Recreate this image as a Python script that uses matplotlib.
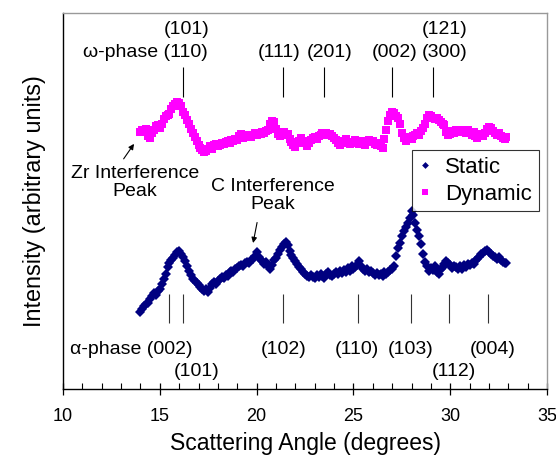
import numpy as np
import matplotlib.pyplot as plt

plt.rcParams['font.family'] = ['Liberation Sans', 'DejaVu Sans']

# scattering angle grid (degrees)
angle = np.round(np.arange(14.0, 32.95, 0.1), 1)

# dynamic (magenta squares), arbitrary units
dynamic = [
    68.4, 68.9, 68.6, 69.2, 67.3, 66.8, 68.2, 69.0, 69.9, 70.1,
    69.5, 70.6, 71.8, 72.7, 73.0, 73.2, 74.5, 75.3, 75.9, 76.4,
    76.0, 75.2, 73.8, 72.9, 71.5, 70.5, 69.2, 68.1, 67.0, 66.0,
    64.9, 64.1, 63.5, 63.0, 63.3, 63.8, 64.5, 63.9, 64.8, 65.2,
    64.6, 65.0, 65.5, 65.1, 65.6, 66.0, 65.4, 66.3, 66.0, 66.6,
    66.2, 67.4, 67.8, 66.8, 67.3, 67.0, 67.6, 66.9, 67.5, 68.0,
    67.6, 68.2, 67.8, 68.4, 68.0, 68.6, 69.0, 70.5, 71.3, 71.0,
    69.2, 67.9, 67.4, 67.8, 68.3, 67.6, 67.8, 66.4, 65.6, 64.8,
    64.4, 65.3, 65.9, 66.7, 66.0, 65.4, 64.6, 65.5, 66.3, 66.8,
    67.1, 66.6, 67.3, 67.6, 68.0, 67.7, 68.0, 67.6, 67.8, 67.2,
    66.8, 66.1, 65.5, 65.0, 65.3, 65.9, 66.4, 65.7, 65.1, 65.4,
    65.8, 66.3, 65.6, 65.2, 65.9, 65.5, 65.0, 65.7, 66.2, 65.6,
    65.9, 65.2, 64.8, 65.4, 64.6, 64.0, 66.5, 69.0, 71.2, 73.0,
    73.8, 73.5, 72.6, 72.2, 70.4, 68.0, 66.8, 66.0, 66.5, 67.0,
    66.4, 67.2, 67.6, 68.0, 67.5, 68.6, 69.4, 70.5, 72.0, 72.9,
    72.5, 72.0, 71.8, 72.2, 71.5, 71.0, 70.6, 70.2, 68.4, 67.6,
    67.9, 68.6, 68.2, 68.8, 68.5, 69.0, 68.4, 68.7, 68.2, 68.8,
    68.0, 67.6, 68.3, 67.4, 66.8, 67.5, 67.9, 67.3, 68.0, 69.2,
    69.8, 69.3, 68.6, 68.0, 67.6, 68.2, 67.4, 66.8, 66.4, 66.9,
]

# static (navy diamonds)
static = [
    20.5, 21.3, 22.0, 22.6, 23.0, 23.8, 24.6, 25.4, 25.0, 26.0,
    26.6, 27.8, 29.2, 30.6, 32.5, 33.4, 34.2, 34.8, 35.6, 36.4,
    36.8, 35.9, 35.0, 34.0, 32.6, 31.5, 30.2, 29.3, 28.7, 28.2,
    27.7, 27.0, 26.6, 26.1, 26.5, 25.8, 26.8, 27.8, 28.4, 28.0,
    28.8, 29.3, 29.8, 29.5, 30.3, 30.0, 31.0, 31.4, 31.1, 31.8,
    32.2, 32.8, 33.1, 32.6, 33.4, 33.8, 33.5, 34.2, 34.6, 35.3,
    36.4, 35.0, 34.4, 34.0, 33.3, 33.7, 32.6, 32.0, 33.0, 34.2,
    34.8, 36.0, 36.9, 37.8, 38.5, 39.1, 38.3, 36.8, 35.6, 34.8,
    34.0, 33.3, 32.5, 31.8, 31.2, 30.6, 30.1, 29.8, 30.2, 29.9,
    29.6, 30.3, 29.8, 30.6, 30.1, 29.4, 30.5, 31.0, 30.4, 30.0,
    30.7, 31.2, 30.6, 31.3, 30.8, 31.6, 31.0, 32.2, 31.4, 32.6,
    31.8, 32.4, 33.0, 34.0, 32.8, 31.9, 31.4, 31.8, 31.0, 31.5,
    30.8, 30.4, 30.9, 30.2, 30.6, 30.0, 31.0, 30.5, 31.2, 31.6,
    31.8, 32.8, 35.4, 37.4, 38.8, 40.6, 42.0, 43.2, 44.2, 45.4,
    47.4, 46.2, 44.2, 42.4, 40.6, 38.6, 36.0, 33.8, 32.6, 31.4,
    32.2, 31.6, 32.6, 31.2, 30.6, 31.8, 32.4, 33.2, 34.0, 33.4,
    33.0, 32.2, 32.8, 32.4, 31.8, 32.6, 32.0, 32.9, 32.4, 33.2,
    33.0, 33.6, 33.2, 34.0, 34.6, 35.2, 35.8, 36.2, 36.6, 37.0,
    36.4, 36.0, 35.4, 35.0, 34.6, 35.0, 34.2, 33.8, 33.4, 33.6,
]

# reflection positions
omega_pos = [16.22, 21.36, 23.47, 26.98, 29.12]
alpha_pos = [15.45, 16.22, 21.36, 25.21, 27.99, 29.95, 31.95]

fig = plt.figure(figsize=(5.56, 4.58), dpi=100)
ax = fig.add_axes([0.1133, 0.1507, 0.8707, 0.8209])

ax.plot(angle, dynamic, 's', color='#FF00FF', markersize=6, markeredgewidth=0,
        label='Dynamic', zorder=3)
ax.plot(angle, static, 'D', color='#000080', markersize=4.6, markeredgewidth=0,
        label='Static', zorder=3)

ax.vlines(omega_pos, 77.7, 85.6, color='black', linewidth=0.8)
ax.vlines(alpha_pos, 17.6, 25.3, color='#333333', linewidth=0.8)

fs = 14
# omega-phase labels
ax.text(17.48, 89.4, '\u03c9-phase (110)', ha='right', va='center', fontsize=fs)
ax.text(16.37, 95.5, '(101)', ha='center', va='center', fontsize=fs)
ax.text(21.16, 89.4, '(111)', ha='center', va='center', fontsize=fs)
ax.text(23.75, 89.4, '(201)', ha='center', va='center', fontsize=fs)
ax.text(27.10, 89.4, '(002)', ha='center', va='center', fontsize=fs)
ax.text(29.71, 89.4, '(300)', ha='center', va='center', fontsize=fs)
ax.text(29.71, 95.5, '(121)', ha='center', va='center', fontsize=fs)

# alpha-phase labels
ax.text(16.67, 10.5, '\u03b1-phase (002)', ha='right', va='center', fontsize=fs)
ax.text(16.92, 4.7, '(101)', ha='center', va='center', fontsize=fs)
ax.text(21.41, 10.5, '(102)', ha='center', va='center', fontsize=fs)
ax.text(25.18, 10.5, '(110)', ha='center', va='center', fontsize=fs)
ax.text(27.96, 10.5, '(103)', ha='center', va='center', fontsize=fs)
ax.text(30.19, 4.7, '(112)', ha='center', va='center', fontsize=fs)
ax.text(32.19, 10.5, '(004)', ha='center', va='center', fontsize=fs)

# interference peaks
ax.annotate('', xy=(13.75, 65.8), xytext=(13.05, 60.6),
            arrowprops=dict(arrowstyle='-|>', color='black', lw=0.8,
                            mutation_scale=8))
ax.text(13.73, 54.9, 'Zr Interference\nPeak', ha='center', va='center',
        fontsize=fs, linespacing=1.05)
ax.annotate('', xy=(19.79, 38.1), xytext=(20.05, 45.0),
            arrowprops=dict(arrowstyle='-|>', color='black', lw=0.8,
                            mutation_scale=8))
ax.text(20.82, 51.4, 'C Interference\nPeak', ha='center', va='center',
        fontsize=fs, linespacing=1.05)

ax.set_xlim(10, 35)
ax.set_ylim(0, 100)
ax.set_xticks(np.arange(10, 36, 5))
ax.set_xticks(np.arange(10, 36, 1), minor=True)
ax.set_yticks([])
ax.tick_params(axis='x', which='major', direction='inout', length=8,
               width=0.9, labelsize=13, pad=10)
ax.tick_params(axis='x', which='minor', direction='in', length=4, width=0.8)

for s in ['top', 'right']:
    ax.spines[s].set_color('#999999')
    ax.spines[s].set_linewidth(1.0)
ax.spines['left'].set_linewidth(1.0)
ax.spines['bottom'].set_linewidth(1.0)

ax.set_xlabel('Scattering Angle (degrees)', fontsize=16.5, labelpad=5)
ax.set_ylabel('Intensity (arbitrary units)', fontsize=16.8, labelpad=12)

h, l = ax.get_legend_handles_labels()
leg = ax.legend(h[::-1], l[::-1], loc='upper right', bbox_to_anchor=(0.983, 0.636),
                borderaxespad=0, fontsize=16, frameon=True, fancybox=False,
                edgecolor='black', handlelength=0.6, handletextpad=0.6,
                borderpad=0.3, labelspacing=0.28, markerscale=0.75)
leg.get_frame().set_linewidth(0.8)

fig.savefig('out.png', dpi=100)
